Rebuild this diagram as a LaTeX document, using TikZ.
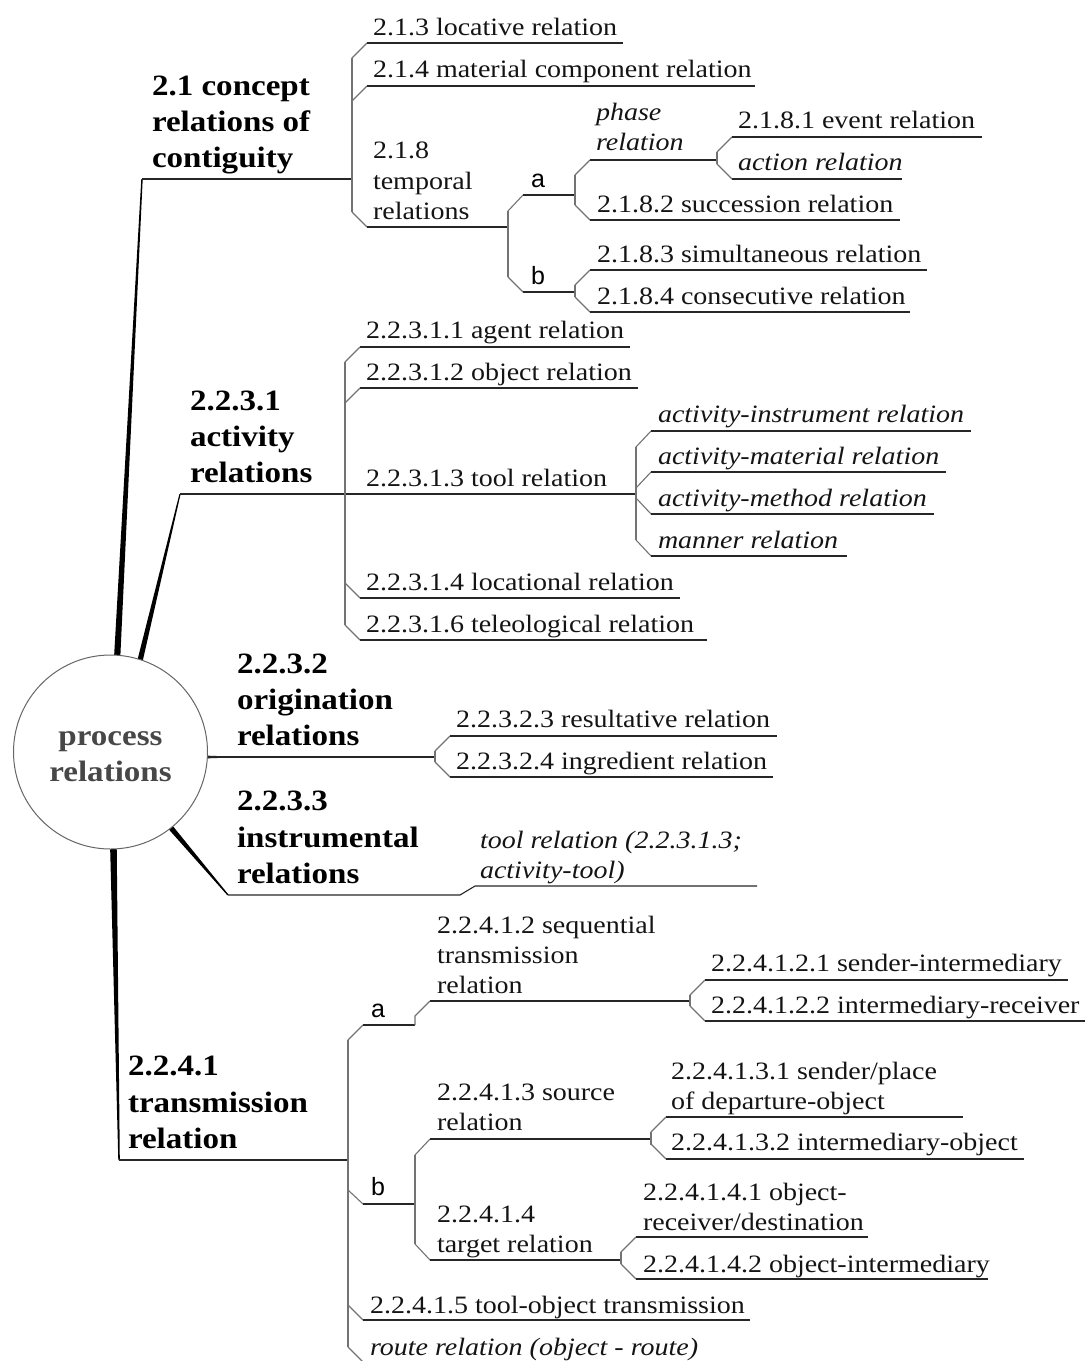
\documentclass[tikz,border=0pt]{standalone}
\usepackage{fontspec}
\setmainfont{Liberation Serif}[FakeStretch=1.12]
\newfontfamily\abfont{Liberation Sans}
% one branch of a bracket: chamfer from the bracket bar (#1,#2) to the underline at height #3, underline ending at x=#4
\newcommand{\twig}[4]{\draw[brk] (#1,#2) -- (#1+15,#3); \draw[ul] (#1+15,#3) -- (#4,#3);}
\begin{document}
\begin{tikzpicture}[x=1pt,y=-1pt,
  rel/.style={anchor=base west, inner sep=0pt, outer sep=0pt, text=black!92, font=\fontsize{25}{30}\selectfont},
  irel/.style={rel, font=\fontsize{25}{30}\selectfont\itshape},
  head/.style={anchor=base west, inner sep=0pt, outer sep=0pt, font=\fontsize{29.5}{36}\selectfont\bfseries},
  abl/.style={anchor=base west, inner sep=0pt, outer sep=0pt, font=\abfont\fontsize{25}{30}\selectfont},
  brk/.style={draw=black!55, line width=1.1pt},
  ul/.style={draw=black!85, line width=1.1pt},
  trunk/.style={fill=black},
]
\path[use as bounding box] (0,0) rectangle (1087,1361);
\clip (0,0) rectangle (1087,1361);

% ---------- junction points ----------
\coordinate (r21) at (142,179);   \coordinate (b21) at (352,179);
\coordinate (r231) at (180,494);  \coordinate (b231) at (636,494);
\coordinate (r232) at (208,757);  \coordinate (b232) at (435,757);
\coordinate (r233) at (228,895);  \coordinate (k233) at (460,895);
\coordinate (m233) at (475,886);  \coordinate (e233) at (757,886);
\coordinate (r241) at (119,1160); \coordinate (b241) at (348,1160);

% ---------- tapered trunks from the hub ----------
\fill[trunk] (141.3,179) -- (142.7,179) -- (119.6,672) -- (113.2,672) -- cycle;
\fill[trunk] (179.4,494) -- (180.6,494) -- (140.2,672) -- (134.4,672) -- cycle;
\fill[trunk] (200,755.4) -- (228,756.4) -- (228,757.6) -- (200,758.6) -- cycle;
\fill[trunk] (227.5,895.4) -- (228.5,894.6) -- (166.3,818.0) -- (161.9,821.6) -- cycle;
\fill[trunk] (109.8,835) -- (116.6,835) -- (119.8,1160) -- (118.3,1160) -- cycle;

\draw[ul] (r21) -- (b21);
\draw[ul] (r231) -- (b231);
\draw[ul] (r232) -- (b232);
\draw[ul] (r233) -- (k233) -- (m233) -- (e233);
\draw[ul] (r241) -- (b241);

% ---------- hub ----------
\node[circle, draw=black!60, fill=white, line width=1pt, minimum size=194pt, inner sep=0pt] (pr) at (110.5,752) {};
\node[anchor=base, inner sep=0pt, text=black!72, font=\fontsize{29.5}{36}\selectfont\bfseries] (prA) at (110.5,745) {process};
\node[anchor=base, inner sep=0pt, text=black!72, font=\fontsize{29.5}{36}\selectfont\bfseries] (prB) at (110.5,781) {relations};

% ---------- 2.1 concept relations of contiguity ----------
\node[head] (h21a) at (152,95) {2.1 concept};
\node[head] (h21b) at (152,131) {relations of};
\node[head] (h21c) at (152,167) {contiguity};

\draw[brk] (352,58) -- (352,212);
\twig{352}{58}{43}{623}
\twig{352}{101}{86}{755}
\twig{352}{212}{227}{508}
\node[rel] (n213) at (373,35) {2.1.3 locative relation};
\node[rel] (n214) at (373,77) {2.1.4 material component relation};
\node[rel] (n218a) at (373,158) {2.1.8};
\node[rel] (n218b) at (373,189) {temporal};
\node[rel] (n218c) at (373,219) {relations};

% a / b split of the temporal relations
\draw[brk] (508,211) -- (508,277);
\draw[brk] (508,211) -- (523,195); \draw[ul] (523,195) -- (575,195);
\draw[brk] (508,277) -- (523,292); \draw[ul] (523,292) -- (575,292);
\node[abl] (ta) at (531,187) {a};
\node[abl] (tb) at (531,284) {b};

\draw[brk] (575,175) -- (575,205);
\twig{575}{175}{160}{717}
\twig{575}{205}{220}{900}
\node[irel] (phA) at (596,120) {phase};
\node[irel] (phB) at (596,150) {relation};
\node[rel] (n2182) at (597,212) {2.1.8.2 succession relation};

\draw[brk] (717,152) -- (717,164);
\twig{717}{152}{137}{982}
\twig{717}{164}{179}{902}
\node[rel] (n2181) at (738,128) {2.1.8.1 event relation};
\node[irel] (nact) at (738,170) {action relation};

\draw[brk] (575,285) -- (575,297);
\twig{575}{285}{270}{927}
\twig{575}{297}{312}{910}
\node[rel] (n2183) at (597,262) {2.1.8.3 simultaneous relation};
\node[rel] (n2184) at (597,304) {2.1.8.4 consecutive relation};

% ---------- 2.2.3.1 activity relations ----------
\node[head] (h231a) at (190,410) {2.2.3.1};
\node[head] (h231b) at (190,446) {activity};
\node[head] (h231c) at (190,482) {relations};

\draw[brk] (345,362) -- (345,625);
\twig{345}{362}{347}{630}
\twig{345}{403}{388}{638}
\twig{345}{583}{598}{680}
\twig{345}{625}{640}{707}
\node[rel] (n23111) at (366,338) {2.2.3.1.1 agent relation};
\node[rel] (n23112) at (366,380) {2.2.3.1.2 object relation};
\node[rel] (n23113) at (366,486) {2.2.3.1.3 tool relation};
\node[rel] (n23114) at (366,590) {2.2.3.1.4 locational relation};
\node[rel] (n23116) at (366,632) {2.2.3.1.6 teleological relation};

\draw[brk] (636,447) -- (636,540);
\twig{636}{447}{431}{971}
\twig{636}{488}{472}{946}
\twig{636}{498}{514}{934}
\twig{636}{540}{556}{847}
\node[irel] (ainst) at (658,422) {activity-instrument relation};
\node[irel] (amat) at (658,464) {activity-material relation};
\node[irel] (ameth) at (658,506) {activity-method relation};
\node[irel] (mann) at (658,548) {manner relation};

% ---------- 2.2.3.2 origination relations ----------
\node[head] (h232a) at (237,673) {2.2.3.2};
\node[head] (h232b) at (237,709) {origination};
\node[head] (h232c) at (237,745) {relations};

\draw[brk] (435,751) -- (435,762);
\twig{435}{751}{736}{777}
\twig{435}{762}{777}{773}
\node[rel] (n23223) at (456,727) {2.2.3.2.3 resultative relation};
\node[rel] (n23224) at (456,769) {2.2.3.2.4 ingredient relation};

% ---------- 2.2.3.3 instrumental relations ----------
\node[head] (h233a) at (237,810) {2.2.3.3};
\node[head] (h233b) at (237,847) {instrumental};
\node[head] (h233c) at (237,883) {relations};
\node[irel] (toolA) at (480,848) {tool relation (2.2.3.1.3;};
\node[irel] (toolB) at (480,878) {activity-tool)};

% ---------- 2.2.4.1 transmission relation ----------
\node[head] (h241a) at (128,1075) {2.2.4.1};
\node[head] (h241b) at (128,1112) {transmission};
\node[head] (h241c) at (128,1148) {relation};

\draw[brk] (348,1040) -- (348,1347);
% branch a
\draw[brk] (348,1040) -- (363,1025); \draw[ul] (363,1025) -- (415,1025);
\draw[brk] (415,1025) -- (415,1016) -- (430,1001); \draw[ul] (430,1001) -- (690,1001);
\node[abl] (sa) at (371,1017) {a};
% branch b
\draw[brk] (348,1190) -- (363,1204); \draw[ul] (363,1204) -- (415,1204);
\node[abl] (sb) at (371,1195) {b};
\twig{348}{1305}{1320}{750}
\twig{348}{1347}{1362}{700}
\node[rel] (n24115) at (370,1313) {2.2.4.1.5 tool-object transmission};
\node[irel] (nroute) at (370,1355) {route relation (object - route)};

\node[rel] (n2412a) at (437,933) {2.2.4.1.2 sequential};
\node[rel] (n2412b) at (437,963) {transmission};
\node[rel] (n2412c) at (437,993) {relation};

\draw[brk] (690,995) -- (690,1006);
\twig{690}{995}{980}{1068}
\twig{690}{1006}{1021}{1085}
\node[rel] (n24121) at (711,971) {2.2.4.1.2.1 sender-intermediary};
\node[rel] (n24122) at (711,1013) {2.2.4.1.2.2 intermediary-receiver};

\draw[brk] (415,1155) -- (415,1244);
\twig{415}{1155}{1139}{651}
\twig{415}{1244}{1260}{621}
\node[rel] (n2413a) at (437,1100) {2.2.4.1.3 source};
\node[rel] (n2413b) at (437,1130) {relation};
\node[rel] (n2414a) at (437,1222) {2.2.4.1.4};
\node[rel] (n2414b) at (437,1252) {target relation};

\draw[brk] (651,1132) -- (651,1145);
\twig{651}{1132}{1117}{963}
\twig{651}{1144}{1159}{1024}
\node[rel] (n24131a) at (671,1079) {2.2.4.1.3.1 sender/place};
\node[rel] (n24131b) at (671,1109) {of departure-object};
\node[rel] (n24132) at (671,1150) {2.2.4.1.3.2 intermediary-object};

\draw[brk] (621,1252) -- (621,1264);
\twig{621}{1252}{1237}{868}
\twig{621}{1264}{1279}{988}
\node[rel] (n24141a) at (643,1200) {2.2.4.1.4.1 object-};
\node[rel] (n24141b) at (643,1230) {receiver/destination};
\node[rel] (n24142) at (643,1272) {2.2.4.1.4.2 object-intermediary};
\end{tikzpicture}
\end{document}
